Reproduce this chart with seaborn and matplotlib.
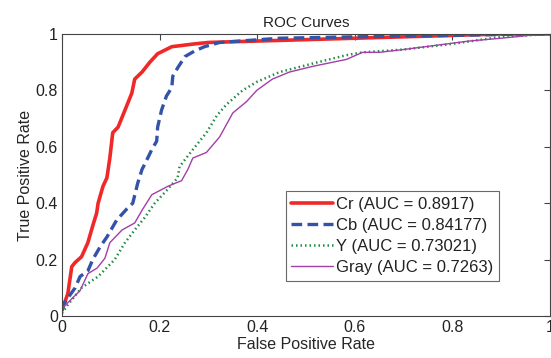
import matplotlib
matplotlib.use("Agg")
import matplotlib.pyplot as plt
import seaborn as sns
import pandas as pd

# --- ROC data ---
cr_fpr = [0, 0.012, 0.02, 0.027, 0.04, 0.053, 0.063, 0.071, 0.074, 0.084, 0.092, 0.098, 0.104,
          0.115, 0.129, 0.143, 0.149, 0.164, 0.18, 0.196, 0.225, 0.272, 0.3, 0.4, 0.5, 0.6, 0.7, 0.8, 0.9, 1.0]
cr_tpr = [0.02, 0.08, 0.175, 0.19, 0.21, 0.26, 0.32, 0.365, 0.40, 0.46, 0.49, 0.56, 0.65,
          0.67, 0.73, 0.79, 0.84, 0.865, 0.90, 0.93, 0.955, 0.965, 0.97, 0.975, 0.98, 0.985, 0.99, 0.995, 1.0, 1.0]

cb_fpr = [0, 0.002, 0.027, 0.037, 0.053, 0.063, 0.078, 0.092, 0.112, 0.133, 0.145, 0.155, 0.164,
          0.17, 0.184, 0.194, 0.196, 0.204, 0.214, 0.225, 0.227, 0.237, 0.252, 0.272, 0.292,
          0.323, 0.446, 0.6, 0.8, 0.95, 1.0]
cb_tpr = [0.02, 0.04, 0.10, 0.14, 0.16, 0.20, 0.245, 0.28, 0.34, 0.38, 0.40, 0.47, 0.52,
          0.54, 0.59, 0.62, 0.67, 0.73, 0.78, 0.81, 0.85, 0.88, 0.92, 0.94, 0.955,
          0.97, 0.985, 0.99, 0.995, 1.0, 1.0]

y_fpr = [0, 0.012, 0.04, 0.074, 0.108, 0.129, 0.149, 0.17, 0.19, 0.217, 0.237, 0.241, 0.268,
         0.296, 0.317, 0.337, 0.37, 0.399, 0.446, 0.513, 0.583, 0.616, 0.7, 0.8, 0.9, 1.0]
y_tpr = [0.01, 0.04, 0.10, 0.14, 0.20, 0.26, 0.305, 0.35, 0.40, 0.45, 0.49, 0.53, 0.59,
         0.65, 0.71, 0.75, 0.80, 0.83, 0.865, 0.895, 0.925, 0.935, 0.945, 0.965, 0.99, 1.0]

gray_fpr = [0, 0.002, 0.037, 0.053, 0.072, 0.088, 0.098, 0.123, 0.149, 0.164, 0.184, 0.217, 0.245,
            0.258, 0.268, 0.296, 0.323, 0.35, 0.378, 0.399, 0.431, 0.466, 0.513, 0.583, 0.616,
            0.65, 0.70, 0.767, 0.834, 0.90, 0.957, 1.0]
gray_tpr = [0.02, 0.03, 0.09, 0.15, 0.17, 0.205, 0.26, 0.305, 0.33, 0.375, 0.43, 0.46, 0.48,
            0.52, 0.56, 0.58, 0.635, 0.72, 0.76, 0.80, 0.84, 0.865, 0.885, 0.91, 0.935,
            0.935, 0.945, 0.96, 0.975, 0.985, 0.995, 1.0]

labels = ["Cr (AUC = 0.8917)", "Cb (AUC = 0.84177)", "Y (AUC = 0.73021)", "Gray (AUC = 0.7263)"]
xticks = [0, 0.2, 0.4, 0.6, 0.8, 1]
tick_labels = ["0", "0.2", "0.4", "0.6", "0.8", "1"]

sns.set_theme(style="white")
plt.rcParams['font.family'] = ['Liberation Sans', 'DejaVu Sans']
plt.rcParams['text.color'] = '#222222'

fig = plt.figure(figsize=(5.51, 3.58), dpi=100)
ax = fig.add_axes([62 / 551, 1 - 316 / 358, 488 / 551, 282 / 358])

series = [
    (cr_fpr, cr_tpr, "#f02828", "-", 2.6),
    (cb_fpr, cb_tpr, "#3452a8", (0, (3.2, 1.6)), 2.4),
    (y_fpr, y_tpr, "#1f8a45", (0, (0.6, 1.2)), 1.8),
    (gray_fpr, gray_tpr, "#a33ea8", "-", 1.0),
]
for (fx, ty, col, ls, lw), lab in zip(series, labels):
    df = pd.DataFrame({"fpr": fx, "tpr": ty})
    sns.lineplot(data=df, x="fpr", y="tpr", ax=ax, color=col, linestyle=ls,
                 linewidth=lw, label=lab, sort=False, estimator=None)

ax.set_xlim(0, 1)
ax.set_ylim(0, 1)
ax.set_xticks(xticks)
ax.set_xticklabels(tick_labels)
ax.set_yticks(xticks)
ax.set_yticklabels(tick_labels)
ax.tick_params(direction="in", length=4, width=0.8, color="#444444", labelsize=11.5,
               labelcolor="#222222", top=True, right=True, pad=3)
for sp in ax.spines.values():
    sp.set_color("#444444")
    sp.set_linewidth(0.8)
ax.set_xlabel("False Positive Rate", fontsize=11.5, labelpad=1)
ax.set_ylabel("True Positive Rate", fontsize=11.5, labelpad=2)
ax.set_title("ROC Curves", fontsize=11, pad=5)

leg = ax.legend(loc="lower left", bbox_to_anchor=(0.458, 0.124), fontsize=12,
                frameon=True, fancybox=False, edgecolor="#444444", handlelength=2.5,
                handletextpad=0.2, borderpad=0.35, labelspacing=0.36, borderaxespad=0)
leg.get_frame().set_linewidth(0.8)

fig.savefig("out.png", dpi=100)
